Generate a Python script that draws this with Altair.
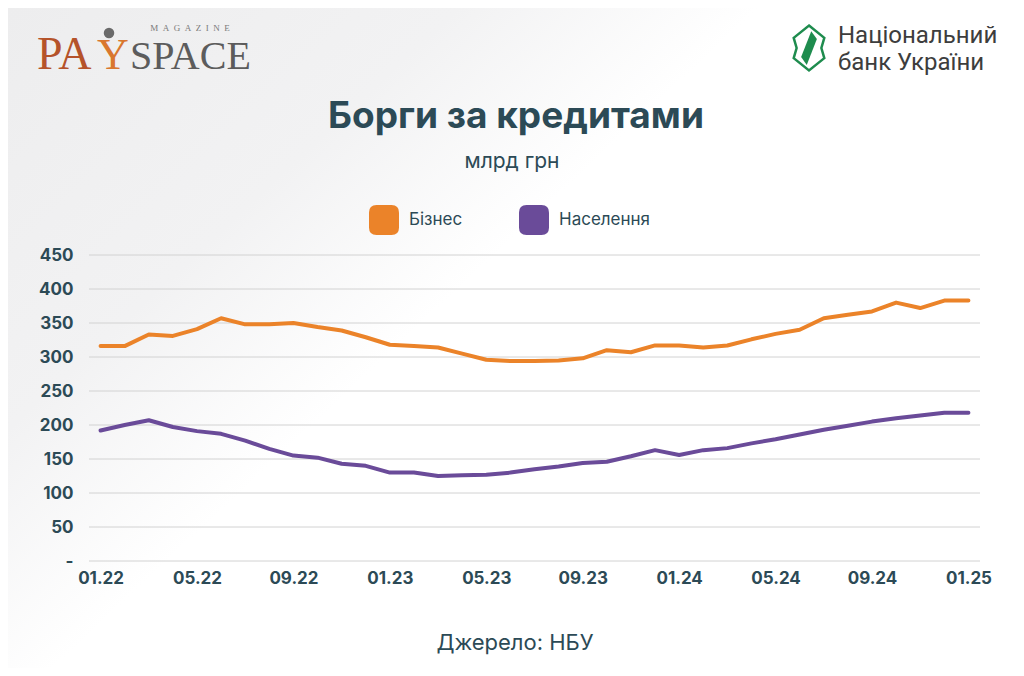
import altair as alt
import pandas as pd

months = ["01.22", "02.22", "03.22", "04.22", "05.22", "06.22", "07.22", "08.22", "09.22",
          "10.22", "11.22", "12.22", "01.23", "02.23", "03.23", "04.23", "05.23", "06.23",
          "07.23", "08.23", "09.23", "10.23", "11.23", "12.23", "01.24", "02.24", "03.24",
          "04.24", "05.24", "06.24", "07.24", "08.24", "09.24", "10.24", "11.24", "12.24", "01.25"]
tick_months = ["01.22", "05.22", "09.22", "01.23", "05.23", "09.23", "01.24", "05.24", "09.24", "01.25"]

business = [316, 316, 333, 331, 341, 357, 348, 348, 350, 344, 339, 329, 318, 316, 314, 305,
            296, 294, 294, 295, 298, 310, 307, 317, 317, 314, 317, 326, 334, 340, 357, 362,
            367, 380, 372, 383, 383]
households = [192, 200, 207, 197, 191, 187, 177, 165, 155, 152, 143, 140, 130, 130, 125, 126,
              127, 130, 135, 139, 144, 146, 154, 163, 156, 163, 166, 173, 179, 186, 193, 199,
              205, 210, 214, 218, 218]

series_names = ["Бізнес", "Населення"]
series_colors = ["#EB8329", "#6A4B99"]
y_ticks = [0, 50, 100, 150, 200, 250, 300, 350, 400, 450]

TEXT = "#2C4A56"
W, H = 891, 306

df = pd.DataFrame({
    "month": months * 2,
    "series": [series_names[0]] * len(months) + [series_names[1]] * len(months),
    "value": business + households,
})

x_enc = alt.X("month:O", sort=months, title=None,
              scale=alt.Scale(type="point", padding=0.48),
              axis=alt.Axis(values=tick_months, labelAngle=0, domain=False, ticks=False,
                            grid=False, labelFont="Inter", labelFontSize=17, zindex=2,
                            labelFontWeight="bold", labelColor=TEXT, labelPadding=9))
y_enc = alt.Y("value:Q", title=None,
              scale=alt.Scale(domain=[0, 450], nice=False, zero=True),
              axis=alt.Axis(values=y_ticks, domain=False, ticks=False, grid=False, zindex=2,
                            labelFont="Inter", labelFontSize=17, labelFontWeight="bold",
                            labelColor=TEXT, labelPadding=16,
                            labelExpr="datum.value == 0 ? '-' : datum.label"))
color_scale = alt.Scale(domain=series_names, range=series_colors)

# background swoosh
bg = alt.Chart(pd.DataFrame({"k": [0]})).mark_rect(
    color=alt.LinearGradient(
        gradient="linear", x1=0, y1=0, x2=1, y2=0.7,
        stops=[alt.GradientStop(color="#ededee", offset=0),
               alt.GradientStop(color="#f2f2f3", offset=0.3),
               alt.GradientStop(color="#ffffff", offset=0.5),
               alt.GradientStop(color="#ffffff", offset=1)])
).encode(x=alt.value(-81), x2=alt.value(W + 36), y=alt.value(-247), y2=alt.value(H + 107))

grid = alt.Chart(pd.DataFrame({"value": y_ticks})).mark_rule(
    color="#d2d2d2", strokeWidth=1
).encode(y=y_enc, x=alt.value(0), x2=alt.value(W))

rounded = ("M-0.5,-1 L0.5,-1 Q1,-1 1,-0.5 L1,0.5 Q1,1 0.5,1 L-0.5,1 Q-1,1 -1,0.5 "
           "L-1,-0.5 Q-1,-1 -0.5,-1 Z")

legend_layer = alt.Chart(df).mark_point(filled=True, opacity=1).encode(
    x=x_enc, y=y_enc,
    color=alt.Color("series:N", scale=color_scale, sort=series_names,
                    legend=alt.Legend(title=None, orient="none", legendX=280, legendY=-50,
                                      direction="horizontal", symbolType=rounded,
                                      symbolSize=900, symbolStrokeWidth=0,
                                      labelFont="Inter", labelFontSize=17, labelColor=TEXT,
                                      labelOffset=10, columnPadding=56, padding=0))
).transform_filter("false")

lines = alt.Chart(df).mark_line(strokeWidth=4, strokeJoin="round", strokeCap="round").encode(
    x=x_enc, y=y_enc,
    color=alt.Color("series:N", scale=color_scale, sort=series_names, legend=None),
    detail="series:N")


def label(text, x, y, size, color=TEXT, font="Inter", weight="normal", align="center"):
    return alt.Chart(pd.DataFrame({"t": [text]})).mark_text(
        font=font, fontSize=size, fontWeight=weight, color=color, align=align,
        baseline="alphabetic").encode(text="t:N", x=alt.value(x), y=alt.value(y))


title = label("Борги за кредитами", 427, -127, 37, weight="bold")
subtitle = label("млрд грн", 423, -87, 21)
source = label("Джерело: НБУ", 426, 395, 22)

# PaySpace logo
sp = "\u2002"
pay1 = label("PA", -52, -186, 46, color="#B5532A", font="Liberation Serif", align="left")
pay2 = label("Y", 24, -186, 44, color="#D9772E", font="Liberation Serif")
pay3 = label("SPACE", 41, -186, 40, color="#5C5C5C", font="Liberation Serif", align="left")
mag = label(sp.join("MAGAZINE"), 101, -224, 9, color="#7a7a7a", font="Liberation Serif")
ball = alt.Chart(pd.DataFrame({"k": [0]})).mark_point(
    filled=True, shape="circle", size=110, color="#6a6a6a", opacity=1
).encode(x=alt.value(20), y=alt.value(-222))

# NBU logo
nbu1 = label("Національний", 749, -212, 24, color="#3d3d3d", font="Roboto", align="left")
nbu2 = label("банк України", 749, -185, 24, color="#3d3d3d", font="Roboto", align="left")
emblem = alt.Chart(pd.DataFrame({"k": [0]})).mark_point(
    shape="M0,-1 L0.68,-0.45 L0.55,0 L0.68,0.45 L0,1 L-0.68,0.45 L-0.55,0 L-0.68,-0.45 Z",
    size=2025, filled=False, stroke="#1E8C4E", strokeWidth=2.5, opacity=1
).encode(x=alt.value(720), y=alt.value(-207))
stripe = alt.Chart(pd.DataFrame({"k": [0]})).mark_point(
    shape="M0.1,-0.75 L0.35,-0.4 L-0.1,0.75 L-0.35,0.4 Z",
    size=2025, filled=True, color="#1E8C4E", opacity=1, strokeWidth=0
).encode(x=alt.value(720), y=alt.value(-207))

chart = alt.layer(
    bg, grid, legend_layer, lines, title, subtitle, source,
    pay1, pay2, pay3, mag, ball, nbu1, nbu2, emblem, stripe
).properties(
    width=W, height=H,
    autosize=alt.AutoSizeParams(type="none"),
    padding={"left": 81, "top": 247, "right": 36, "bottom": 107},
    background="#ffffff",
).configure_view(stroke=None)

chart.save("out.html", embed_options={"renderer": "svg", "actions": False})
